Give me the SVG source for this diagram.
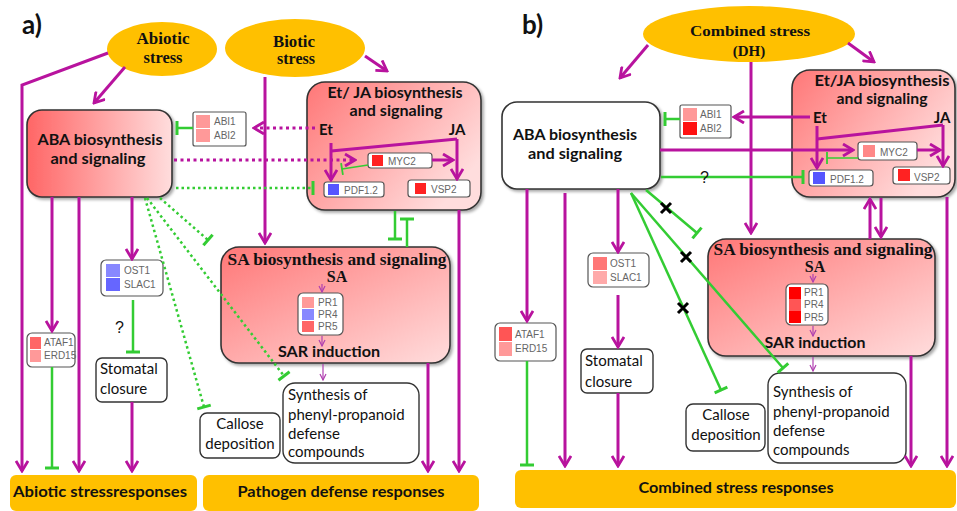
<svg xmlns="http://www.w3.org/2000/svg" width="957" height="511" viewBox="0 0 957 511">
<defs>
<style>
.m{stroke:#b8139e;stroke-width:3;fill:none}
.md{stroke:#b8139e;stroke-width:3;fill:none;stroke-dasharray:3 3.5}
.g{stroke:#33cc33;stroke-width:2.5;fill:none}
.gt{stroke:#33cc33;stroke-width:1.5;fill:none}
.gd{stroke:#33cc33;stroke-width:2.5;fill:none;stroke-dasharray:2.5 3}
.ms{stroke:#b040b0;stroke-width:1.2;fill:none}
.x{stroke:#000;stroke-width:3;fill:none}
.ell{fill:#FFC000}
.resp{fill:#FFC000}
.big{stroke:#333;stroke-width:1.6}
.wbox{fill:#fff;stroke:#333;stroke-width:1.4}
.gbox{fill:#fff;stroke:#555;stroke-width:1.2}
.ser{font-family:"Liberation Serif",serif;font-weight:bold;fill:#111;text-anchor:middle}
.cal{font-family:Lato,"Open Sans",sans-serif;font-weight:bold;fill:#111;text-anchor:middle}
.reg{font-family:Lato,"Open Sans",sans-serif;fill:#111;font-size:15px}
.gn{font-family:"Liberation Sans",Arial,sans-serif;fill:#666;font-size:10px}
.q{font-family:"Liberation Sans",Arial,sans-serif;fill:#111;font-size:16px}
</style>
<linearGradient id="gABA" x1="0" y1="0" x2="1" y2="0"><stop offset="0" stop-color="#f66"/><stop offset="1" stop-color="#fdd"/></linearGradient>
<linearGradient id="gET" x1="0" y1="0" x2="1" y2="0.6"><stop offset="0" stop-color="#f77"/><stop offset="1" stop-color="#fdd"/></linearGradient>
<linearGradient id="gSA" x1="0" y1="0" x2="1" y2="1"><stop offset="0" stop-color="#f77"/><stop offset="1" stop-color="#fdd"/></linearGradient>
<filter id="sh" x="-10%" y="-10%" width="120%" height="120%"><feDropShadow dx="2" dy="2" stdDeviation="1.5" flood-opacity="0.35"/></filter>
<marker id="ah" viewBox="0 0 14 14" refX="12" refY="7" markerWidth="14" markerHeight="14" markerUnits="userSpaceOnUse" orient="auto"><path d="M2,1 L12,7 L2,13" fill="none" stroke="#b8139e" stroke-width="2.8"/></marker>
<marker id="ahs" viewBox="0 0 8 8" refX="7" refY="4" markerWidth="8" markerHeight="8" markerUnits="userSpaceOnUse" orient="auto"><path d="M1,1 L7,4 L1,7" fill="none" stroke="#b040b0" stroke-width="1.2"/></marker>
<marker id="tee" viewBox="-2 -8 4 16" refX="0" refY="0" markerWidth="4" markerHeight="16" markerUnits="userSpaceOnUse" orient="auto"><path d="M0,-7 V7" stroke="#33cc33" stroke-width="3"/></marker>
<marker id="tees" viewBox="-2 -7 4 14" refX="0" refY="0" markerWidth="4" markerHeight="14" markerUnits="userSpaceOnUse" orient="auto"><path d="M0,-6 V6" stroke="#33cc33" stroke-width="1.8"/></marker>
</defs>
<rect width="957" height="511" fill="#fff"/>

<text x="22" y="34" font-family="Lato,sans-serif" font-weight="bold" font-size="26" fill="#111">a)</text>
<text x="522" y="34" font-family="Lato,sans-serif" font-weight="bold" font-size="26" fill="#111">b)</text>

<!-- ================= PANEL A NODES ================= -->
<g id="a-abiotic">
<ellipse class="ell" cx="162" cy="49" rx="55" ry="27"/>
<text class="ser" x="163" y="44" font-size="16" textLength="53" lengthAdjust="spacingAndGlyphs">Abiotic</text>
<text class="ser" x="163" y="63" font-size="16" textLength="39" lengthAdjust="spacingAndGlyphs">stress</text>
</g>
<g id="a-biotic">
<ellipse class="ell" cx="295" cy="48" rx="70" ry="29"/>
<text class="ser" x="294" y="47" font-size="16" textLength="42" lengthAdjust="spacingAndGlyphs">Biotic</text>
<text class="ser" x="296" y="64" font-size="16" textLength="38" lengthAdjust="spacingAndGlyphs">stress</text>
</g>
<g id="a-aba">
<rect class="big" x="27" y="110" width="145" height="87" rx="15" fill="url(#gABA)" filter="url(#sh)"/>
<text class="cal" x="100" y="145" font-size="16" textLength="125" lengthAdjust="spacingAndGlyphs">ABA biosynthesis</text>
<text class="cal" x="98" y="164" font-size="16" textLength="95" lengthAdjust="spacingAndGlyphs">and signaling</text>
</g>
<g id="a-abi">
<rect class="gbox" x="193" y="112" width="53" height="34" rx="2"/>
<rect x="196" y="115" width="14" height="13" fill="#f99"/>
<rect x="196" y="129" width="14" height="13" fill="#f99"/>
<text class="gn" x="214" y="125">ABI1</text>
<text class="gn" x="214" y="139">ABI2</text>
</g>
<g id="a-etja">
<rect class="big" x="307" y="82" width="174" height="128" rx="18" fill="url(#gET)" filter="url(#sh)"/>
<text class="cal" x="395" y="98" font-size="15" textLength="135" lengthAdjust="spacingAndGlyphs">Et/ JA biosynthesis</text>
<text class="cal" x="396" y="116" font-size="15" textLength="93" lengthAdjust="spacingAndGlyphs">and signaling</text>
<text class="cal" x="326" y="135" font-size="15">Et</text>
<text class="cal" x="457" y="135" font-size="15">JA</text>
</g>
<g id="a-myc2">
<rect class="gbox" x="368" y="153" width="64" height="15" rx="3"/>
<rect x="372" y="155" width="11" height="11" fill="#f22"/>
<text class="gn" x="388" y="165">MYC2</text>
</g>
<g id="a-pdf">
<rect class="gbox" x="324" y="182" width="60" height="15" rx="3"/>
<rect x="328" y="184" width="11" height="11" fill="#55f"/>
<text class="gn" x="344" y="194">PDF1.2</text>
</g>
<g id="a-vsp2">
<rect class="gbox" x="408" y="180" width="62" height="17" rx="3"/>
<rect x="415" y="183" width="11" height="11" fill="#f22"/>
<text class="gn" x="431" y="193">VSP2</text>
</g>
<g id="a-sa">
<rect class="big" x="221" y="247" width="229" height="116" rx="18" fill="url(#gSA)" filter="url(#sh)"/>
<text class="ser" x="337" y="265" font-size="16" textLength="219" lengthAdjust="spacingAndGlyphs">SA biosynthesis and signaling</text>
<text class="ser" x="337" y="282" font-size="16">SA</text>
<text class="cal" x="329" y="357" font-size="16" textLength="102" lengthAdjust="spacingAndGlyphs">SAR induction</text>
</g>
<g id="a-pr">
<rect class="gbox" x="298" y="293" width="45" height="42" rx="5"/>
<rect x="302" y="297" width="12" height="11" fill="#f99"/>
<rect x="302" y="309" width="12" height="11" fill="#88f"/>
<rect x="302" y="321" width="12" height="11" fill="#f66"/>
<text class="gn" x="318" y="306">PR1</text>
<text class="gn" x="318" y="318">PR4</text>
<text class="gn" x="318" y="330">PR5</text>
</g>
<g id="a-ost1">
<rect class="gbox" x="101" y="260" width="62" height="36" rx="5"/>
<rect x="106" y="264" width="14" height="13" fill="#88f"/>
<rect x="106" y="278" width="14" height="13" fill="#66f"/>
<text class="gn" x="124" y="274">OST1</text>
<text class="gn" x="124" y="288">SLAC1</text>
</g>
<g id="a-ataf1">
<rect class="gbox" x="27" y="333" width="48" height="34" rx="5"/>
<rect x="30" y="337" width="11" height="12" fill="#f66"/>
<rect x="30" y="350" width="11" height="12" fill="#f99"/>
<text class="gn" x="44" y="346" font-size="9.5">ATAF1</text>
<text class="gn" x="44" y="359" font-size="9.5">ERD15</text>
</g>
<g id="a-stomatal">
<rect class="wbox" x="96" y="358" width="71" height="44" rx="6"/>
<text class="reg" x="100" y="374">Stomatal</text>
<text class="reg" x="100" y="394">closure</text>
</g>
<g id="a-callose">
<rect class="wbox" x="200" y="413" width="80" height="45" rx="7"/>
<text class="reg" x="240" y="429" text-anchor="middle">Callose</text>
<text class="reg" x="240" y="449" text-anchor="middle">deposition</text>
</g>
<g id="a-synthesis">
<rect class="wbox" x="283" y="383" width="136" height="80" rx="12"/>
<text class="reg" x="288" y="400">Synthesis of</text>
<text class="reg" x="288" y="420">phenyl-propanoid</text>
<text class="reg" x="288" y="439">defense</text>
<text class="reg" x="288" y="457">compounds</text>
</g>
<g id="a-abiotic-resp">
<rect class="resp" x="10" y="475" width="187" height="36" rx="6"/>
<text class="cal" x="100" y="497" font-size="15.5" textLength="174" lengthAdjust="spacingAndGlyphs">Abiotic stressresponses</text>
</g>
<g id="a-pathogen-resp">
<rect class="resp" x="203" y="475" width="276" height="36" rx="6"/>
<text class="cal" x="341" y="497" font-size="15.5" textLength="207" lengthAdjust="spacingAndGlyphs">Pathogen defense responses</text>
</g>

<!-- ================= PANEL B NODES ================= -->
<g id="b-combined">
<ellipse class="ell" cx="749" cy="34" rx="106" ry="28"/>
<text class="ser" x="750" y="36" font-size="15" textLength="120" lengthAdjust="spacingAndGlyphs">Combined stress</text>
<text class="ser" x="749" y="56" font-size="15">(DH)</text>
</g>
<g id="b-aba">
<rect class="big" x="502" y="102" width="158" height="87" rx="15" fill="#fff" filter="url(#sh)"/>
<text class="cal" x="575" y="140" font-size="16" textLength="124" lengthAdjust="spacingAndGlyphs">ABA biosynthesis</text>
<text class="cal" x="575" y="159" font-size="16" textLength="94" lengthAdjust="spacingAndGlyphs">and signaling</text>
</g>
<g id="b-abi">
<rect class="gbox" x="680" y="105" width="51" height="33" rx="2"/>
<rect x="683" y="108" width="14" height="13" fill="#f99"/>
<rect x="683" y="122" width="14" height="13" fill="#f11"/>
<text class="gn" x="700" y="118">ABI1</text>
<text class="gn" x="700" y="132">ABI2</text>
</g>
<g id="b-etja">
<rect class="big" x="792" y="70" width="163" height="127" rx="18" fill="url(#gET)" filter="url(#sh)"/>
<text class="cal" x="882" y="86" font-size="15" textLength="135" lengthAdjust="spacingAndGlyphs">Et/JA biosynthesis</text>
<text class="cal" x="882" y="104" font-size="15" textLength="91" lengthAdjust="spacingAndGlyphs">and signaling</text>
<text class="cal" x="820" y="123" font-size="15">Et</text>
<text class="cal" x="942" y="123" font-size="15">JA</text>
</g>
<g id="b-myc2">
<rect class="gbox" x="858" y="142" width="59" height="18" rx="3"/>
<rect x="863" y="145" width="12" height="12" fill="#f88"/>
<text class="gn" x="880" y="156">MYC2</text>
</g>
<g id="b-pdf">
<rect class="gbox" x="809" y="170" width="64" height="16" rx="3"/>
<rect x="813" y="172" width="12" height="12" fill="#55f"/>
<text class="gn" x="830" y="183">PDF1.2</text>
</g>
<g id="b-vsp2">
<rect class="gbox" x="893" y="167" width="57" height="17" rx="3"/>
<rect x="898" y="169" width="12" height="12" fill="#f22"/>
<text class="gn" x="914" y="181">VSP2</text>
</g>
<g id="b-sa">
<rect class="big" x="708" y="239" width="227" height="117" rx="18" fill="url(#gSA)" filter="url(#sh)"/>
<text class="ser" x="823" y="255" font-size="16" textLength="219" lengthAdjust="spacingAndGlyphs">SA biosynthesis and signaling</text>
<text class="ser" x="815" y="272" font-size="16">SA</text>
<text class="cal" x="815" y="348" font-size="16" textLength="101" lengthAdjust="spacingAndGlyphs">SAR induction</text>
</g>
<g id="b-pr">
<rect class="gbox" x="786" y="284" width="42" height="41" rx="5"/>
<rect x="789" y="287" width="12" height="12" fill="#f00"/>
<rect x="789" y="299" width="12" height="12" fill="#f55"/>
<rect x="789" y="311" width="12" height="12" fill="#f00"/>
<text class="gn" x="804" y="296">PR1</text>
<text class="gn" x="804" y="308">PR4</text>
<text class="gn" x="804" y="321">PR5</text>
</g>
<g id="b-ost1">
<rect class="gbox" x="588" y="253" width="61" height="34" rx="5"/>
<rect x="593" y="257" width="14" height="13" fill="#f77"/>
<rect x="593" y="271" width="14" height="13" fill="#faa"/>
<text class="gn" x="610" y="267">OST1</text>
<text class="gn" x="610" y="281">SLAC1</text>
</g>
<g id="b-ataf1">
<rect class="gbox" x="495" y="323" width="61" height="38" rx="5"/>
<rect x="499" y="327" width="13" height="14" fill="#f55"/>
<rect x="499" y="342" width="13" height="14" fill="#f99"/>
<text class="gn" x="515" y="338">ATAF1</text>
<text class="gn" x="515" y="352">ERD15</text>
</g>
<g id="b-stomatal">
<rect class="wbox" x="581" y="349" width="72" height="44" rx="6"/>
<text class="reg" x="585" y="366">Stomatal</text>
<text class="reg" x="585" y="387">closure</text>
</g>
<g id="b-callose">
<rect class="wbox" x="686" y="404" width="79" height="47" rx="7"/>
<text class="reg" x="726" y="420" text-anchor="middle">Callose</text>
<text class="reg" x="726" y="440" text-anchor="middle">deposition</text>
</g>
<g id="b-synthesis">
<rect class="wbox" x="768" y="373" width="138" height="90" rx="12"/>
<text class="reg" x="773" y="397">Synthesis of</text>
<text class="reg" x="773" y="417">phenyl-propanoid</text>
<text class="reg" x="773" y="436">defense</text>
<text class="reg" x="773" y="455">compounds</text>
</g>
<g id="b-combined-resp">
<rect class="resp" x="515" y="470" width="441" height="38" rx="6"/>
<text class="cal" x="736" y="493" font-size="15.5" textLength="195" lengthAdjust="spacingAndGlyphs">Combined stress responses</text>
</g>

<!-- ================= CONNECTORS ================= -->
<g id="connectors">
<path class="m" d="M108,53 L22,85 L22,471" marker-end="url(#ah)"/>
<path class="m" d="M125,67 L94,103" marker-end="url(#ah)"/>
<path class="m" d="M365,56 L387,71" marker-end="url(#ah)"/>
<path class="m" d="M265,77 L265,243" marker-end="url(#ah)"/>
<path class="m" d="M52,197 L52,331" marker-end="url(#ah)"/>
<path class="m" d="M79,197 L79,471" marker-end="url(#ah)"/>
<path class="m" d="M132,197 L132,259" marker-end="url(#ah)"/>
<path class="m" d="M132,402 L132,471" marker-end="url(#ah)"/>
<path class="m" d="M428,363 L428,471" marker-end="url(#ah)"/>
<path class="m" d="M459,210 L459,471" marker-end="url(#ah)"/>
<path class="m" d="M457,139 L331,151"/>
<path class="m" d="M457,139 L457,179" marker-end="url(#ah)"/>
<path class="m" d="M331,143 L331,180" marker-end="url(#ah)"/>
<path class="m" d="M432,160 L453,160" marker-end="url(#ah)"/>
<path class="md" d="M315,128 L254,128" marker-end="url(#ah)"/>
<path class="md" d="M174,160 L355,160" marker-end="url(#ah)"/>
<path class="g" d="M193,128 L177,128" marker-end="url(#tee)"/>
<path class="gt" d="M368,165 L342,169" marker-end="url(#tees)"/>
<path class="g" d="M395,211 L395,239" marker-end="url(#tee)"/>
<path class="g" d="M407,247 L407,219" marker-end="url(#tee)"/>
<path class="g" d="M133,300 L133,352" marker-end="url(#tee)"/>
<path class="g" d="M52,367 L52,468" marker-end="url(#tee)"/>
<path class="gd" d="M176,188 L313,188" marker-end="url(#tee)"/>
<path class="gd" d="M160,198 L208,240" marker-end="url(#tee)"/>
<path class="gd" d="M147,198 L284,376" marker-end="url(#tee)"/>
<path class="gd" d="M145,198 L204,407" marker-end="url(#tee)"/>
<path class="ms" d="M322,284 L322,292" marker-end="url(#ahs)"/>
<path class="ms" d="M322,336 L322,346" marker-end="url(#ahs)"/>
<path class="ms" d="M323,364 L323,380" marker-end="url(#ahs)"/>

<path class="m" d="M648,45 L620,78" marker-end="url(#ah)"/>
<path class="m" d="M848,43 L874,62" marker-end="url(#ah)"/>
<path class="m" d="M751,62 L751,233" marker-end="url(#ah)"/>
<path class="m" d="M810,117 L734,117" marker-end="url(#ah)"/>
<path class="m" d="M660,150 L853,150" marker-end="url(#ah)"/>
<path class="m" d="M943,125 L817,139"/>
<path class="m" d="M817,126 L817,168" marker-end="url(#ah)"/>
<path class="m" d="M943,125 L943,166" marker-end="url(#ah)"/>
<path class="m" d="M917,150 L940,150" marker-end="url(#ah)"/>
<path class="m" d="M870,239 L870,199" marker-end="url(#ah)"/>
<path class="m" d="M881,198 L881,237" marker-end="url(#ah)"/>
<path class="m" d="M527,189 L527,321" marker-end="url(#ah)"/>
<path class="m" d="M565,193 L565,466" marker-end="url(#ah)"/>
<path class="m" d="M618,189 L618,252" marker-end="url(#ah)"/>
<path class="m" d="M618,295 L618,347" marker-end="url(#ah)"/>
<path class="m" d="M618,393 L618,466" marker-end="url(#ah)"/>
<path class="m" d="M911,356 L911,466" marker-end="url(#ah)"/>
<path class="m" d="M947,197 L947,466" marker-end="url(#ah)"/>
<path class="g" d="M680,119 L665,119" marker-end="url(#tee)"/>
<path class="gt" d="M858,158 L827,158" marker-end="url(#tees)"/>
<path class="g" d="M661,177 L803,177" marker-end="url(#tee)"/>
<path class="g" d="M646,190 L697,233" marker-end="url(#tee)"/>
<path class="g" d="M631,193 L783,368" marker-end="url(#tee)"/>
<path class="g" d="M631,193 L721,390" marker-end="url(#tee)"/>
<path class="g" d="M527,361 L527,465" marker-end="url(#tee)"/>
<path class="x" d="M661,203 L671,213 M671,203 L661,213"/>
<path class="x" d="M681,252 L691,262 M691,252 L681,262"/>
<path class="x" d="M678,303 L688,313 M688,303 L678,313"/>
<path class="ms" d="M813,274 L813,282" marker-end="url(#ahs)"/>
<path class="ms" d="M813,326 L813,336" marker-end="url(#ahs)"/>
<path class="ms" d="M813,357 L813,371" marker-end="url(#ahs)"/>
</g>
<text class="q" x="115" y="333">?</text>
<text class="q" x="700" y="183">?</text>
</svg>
